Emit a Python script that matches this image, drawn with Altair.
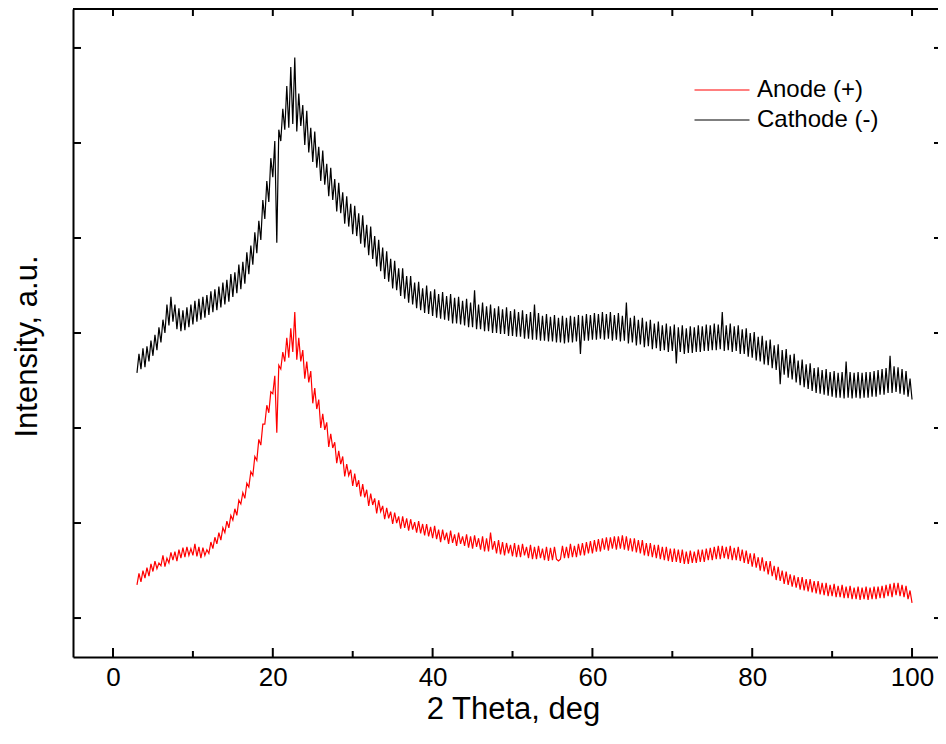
import altair as alt
import pandas as pd

# ---- data ----
two_theta = [round(3.0 + 0.25 * i, 2) for i in range(389)]  # scan grid 3..100 deg, 0.25 deg step

anode = [
    0.35, 0.47, 0.38, 0.50, 0.42, 0.53, 0.44, 0.57, 0.49, 0.60, 0.52, 0.58,
    0.55, 0.66, 0.54, 0.63, 0.58, 0.69, 0.61, 0.70, 0.60, 0.72, 0.63, 0.74,
    0.64, 0.75, 0.66, 0.73, 0.66, 0.78, 0.65, 0.75, 0.63, 0.74, 0.66, 0.72,
    0.68, 0.80, 0.73, 0.85, 0.78, 0.90, 0.82, 0.95, 0.90, 1.02, 0.95, 1.08,
    1.03, 1.15, 1.08, 1.24, 1.20, 1.32, 1.26, 1.42, 1.38, 1.54, 1.50, 1.70,
    1.66, 1.88, 1.82, 2.04, 2.04, 2.24, 2.16, 2.38, 2.36, 2.55, 1.95, 2.66,
    2.62, 2.80, 2.70, 2.95, 2.74, 3.05, 2.80, 3.22, 2.72, 2.95, 2.70, 2.82,
    2.52, 2.70, 2.48, 2.60, 2.26, 2.42, 2.20, 2.30, 2.00, 2.15, 1.98, 2.06,
    1.80, 1.94, 1.79, 1.85, 1.63, 1.76, 1.62, 1.70, 1.49, 1.62, 1.50, 1.56,
    1.39, 1.52, 1.38, 1.45, 1.28, 1.41, 1.27, 1.35, 1.18, 1.31, 1.19, 1.26,
    1.10, 1.24, 1.12, 1.18, 1.04, 1.16, 1.05, 1.12, 0.99, 1.11, 1.00, 1.07,
    0.94, 1.07, 0.95, 1.05, 0.92, 1.04, 0.93, 1.01, 0.90, 1.02, 0.89, 0.99,
    0.87, 0.99, 0.86, 0.96, 0.84, 0.97, 0.83, 0.93, 0.80, 0.93, 0.82, 0.90,
    0.78, 0.92, 0.79, 0.88, 0.76, 0.90, 0.78, 0.86, 0.76, 0.88, 0.74, 0.86,
    0.73, 0.87, 0.75, 0.84, 0.72, 0.86, 0.70, 0.84, 0.70, 0.90, 0.72, 0.81,
    0.68, 0.82, 0.67, 0.80, 0.66, 0.79, 0.68, 0.77, 0.65, 0.79, 0.64, 0.77,
    0.64, 0.78, 0.66, 0.75, 0.63, 0.77, 0.62, 0.75, 0.62, 0.76, 0.63, 0.73,
    0.61, 0.75, 0.60, 0.74, 0.61, 0.75, 0.62, 0.60, 0.62, 0.76, 0.63, 0.75,
    0.63, 0.78, 0.64, 0.76, 0.64, 0.78, 0.66, 0.79, 0.66, 0.80, 0.68, 0.81,
    0.68, 0.82, 0.70, 0.83, 0.70, 0.84, 0.72, 0.85, 0.71, 0.85, 0.73, 0.86,
    0.72, 0.86, 0.73, 0.87, 0.72, 0.86, 0.71, 0.84, 0.70, 0.84, 0.69, 0.82,
    0.68, 0.82, 0.66, 0.79, 0.65, 0.79, 0.64, 0.77, 0.63, 0.77, 0.62, 0.75,
    0.61, 0.75, 0.60, 0.73, 0.59, 0.73, 0.59, 0.72, 0.58, 0.72, 0.57, 0.70,
    0.57, 0.71, 0.58, 0.70, 0.58, 0.72, 0.59, 0.72, 0.59, 0.73, 0.61, 0.74,
    0.61, 0.75, 0.62, 0.76, 0.62, 0.76, 0.63, 0.75, 0.62, 0.76, 0.61, 0.74,
    0.61, 0.75, 0.60, 0.72, 0.58, 0.71, 0.57, 0.68, 0.54, 0.68, 0.53, 0.64,
    0.50, 0.64, 0.49, 0.60, 0.46, 0.60, 0.44, 0.55, 0.40, 0.54, 0.39, 0.50,
    0.36, 0.49, 0.35, 0.46, 0.33, 0.45, 0.32, 0.43, 0.30, 0.43, 0.29, 0.41,
    0.28, 0.41, 0.27, 0.39, 0.26, 0.39, 0.25, 0.37, 0.24, 0.37, 0.23, 0.35,
    0.23, 0.36, 0.22, 0.34, 0.22, 0.35, 0.21, 0.33, 0.21, 0.34, 0.20, 0.32,
    0.20, 0.33, 0.19, 0.32, 0.20, 0.33, 0.19, 0.32, 0.20, 0.33, 0.20, 0.33,
    0.21, 0.34, 0.21, 0.35, 0.23, 0.36, 0.22, 0.37, 0.24, 0.37, 0.23, 0.35,
    0.22, 0.34, 0.20, 0.29, 0.16,
]

cathode = [
    2.58, 2.78, 2.62, 2.84, 2.64, 2.86, 2.70, 2.92, 2.76, 2.98, 2.82, 3.06,
    2.90, 3.14, 3.00, 3.30, 3.08, 3.38, 3.12, 3.30, 3.04, 3.26, 3.02, 3.24,
    3.03, 3.27, 3.06, 3.30, 3.09, 3.34, 3.12, 3.36, 3.14, 3.38, 3.16, 3.40,
    3.19, 3.44, 3.22, 3.46, 3.24, 3.49, 3.27, 3.53, 3.30, 3.56, 3.33, 3.62,
    3.38, 3.64, 3.42, 3.72, 3.46, 3.75, 3.52, 3.85, 3.62, 3.92, 3.72, 4.06,
    3.84, 4.18, 3.98, 4.40, 4.20, 4.60, 4.38, 4.84, 4.64, 5.02, 3.95, 5.14,
    5.02, 5.36, 5.14, 5.60, 5.16, 5.80, 5.20, 5.90, 5.12, 5.52, 5.18, 5.40,
    4.98, 5.34, 4.90, 5.16, 4.80, 5.12, 4.74, 4.96, 4.60, 4.92, 4.56, 4.78,
    4.44, 4.74, 4.40, 4.62, 4.28, 4.58, 4.26, 4.48, 4.15, 4.44, 4.12, 4.36,
    4.04, 4.34, 4.02, 4.26, 3.94, 4.24, 3.90, 4.14, 3.82, 4.12, 3.78, 4.02,
    3.70, 3.98, 3.65, 3.90, 3.57, 3.86, 3.54, 3.78, 3.47, 3.76, 3.45, 3.68,
    3.39, 3.68, 3.36, 3.60, 3.32, 3.60, 3.30, 3.53, 3.26, 3.54, 3.24, 3.47,
    3.21, 3.50, 3.20, 3.44, 3.18, 3.46, 3.16, 3.41, 3.15, 3.43, 3.14, 3.39,
    3.13, 3.41, 3.10, 3.37, 3.10, 3.38, 3.09, 3.34, 3.08, 3.36, 3.06, 3.32,
    3.06, 3.45, 3.04, 3.30, 3.04, 3.32, 3.02, 3.28, 3.02, 3.30, 3.00, 3.26,
    3.00, 3.28, 2.99, 3.25, 2.99, 3.27, 2.97, 3.23, 2.97, 3.25, 2.96, 3.22,
    2.96, 3.24, 2.94, 3.20, 2.94, 3.22, 2.93, 3.30, 2.93, 3.21, 2.92, 3.18,
    2.92, 3.20, 2.91, 3.17, 2.91, 3.19, 2.90, 3.16, 2.90, 3.18, 2.89, 3.16,
    2.90, 3.18, 2.90, 3.17, 2.91, 3.19, 2.78, 3.18, 2.92, 3.20, 2.92, 3.19,
    2.93, 3.21, 2.93, 3.20, 2.94, 3.22, 2.93, 3.20, 2.94, 3.22, 2.92, 3.19,
    2.93, 3.21, 2.91, 3.18, 2.92, 3.32, 2.89, 3.16, 2.90, 3.18, 2.87, 3.14,
    2.88, 3.16, 2.85, 3.12, 2.86, 3.14, 2.83, 3.10, 2.84, 3.12, 2.81, 3.08,
    2.82, 3.10, 2.80, 3.07, 2.81, 3.09, 2.68, 3.06, 2.80, 3.08, 2.78, 3.05,
    2.79, 3.07, 2.79, 3.06, 2.80, 3.08, 2.80, 3.07, 2.81, 3.09, 2.81, 3.08,
    2.82, 3.10, 2.82, 3.09, 2.83, 3.22, 2.81, 3.08, 2.82, 3.10, 2.80, 3.07,
    2.81, 3.08, 2.78, 3.04, 2.78, 3.05, 2.75, 3.00, 2.74, 3.01, 2.71, 2.96,
    2.70, 2.97, 2.67, 2.92, 2.66, 2.93, 2.63, 2.87, 2.61, 2.88, 2.46, 2.82,
    2.56, 2.83, 2.53, 2.77, 2.51, 2.78, 2.48, 2.71, 2.45, 2.72, 2.43, 2.67,
    2.41, 2.68, 2.39, 2.63, 2.37, 2.64, 2.36, 2.61, 2.35, 2.62, 2.34, 2.59,
    2.33, 2.60, 2.32, 2.58, 2.32, 2.59, 2.31, 2.70, 2.32, 2.59, 2.31, 2.58,
    2.32, 2.59, 2.31, 2.58, 2.32, 2.59, 2.32, 2.59, 2.33, 2.60, 2.33, 2.61,
    2.35, 2.62, 2.35, 2.63, 2.37, 2.76, 2.37, 2.65, 2.38, 2.64, 2.36, 2.62,
    2.35, 2.60, 2.33, 2.52, 2.30,
]

series_names = ["Anode (+)", "Cathode (-)"]
series_colors = ["#ff0000", "#000000"]

x_major_ticks = [0, 20, 40, 60, 80, 100]
x_minor_ticks = [10, 30, 50, 70, 90]
x_top_ticks = [0, 10, 20, 30, 40, 50, 60, 70, 80, 90, 100]
y_ticks = [0, 1, 2, 3, 4, 5, 6]

# ---- build tables ----
df = pd.DataFrame({
    "theta": two_theta + two_theta,
    "intensity": anode + cathode,
    "series": [series_names[0]] * len(anode) + [series_names[1]] * len(cathode),
})

W, H = 865, 648
FONT = "Liberation Sans"
xs = alt.Scale(domain=[-5.006, 103.25], nice=False, zero=False)
ys = alt.Scale(domain=[-0.41, 6.41], nice=False, zero=False)

x_axis = alt.Axis(
    values=x_major_ticks, format="d", ticks=False, grid=False,
    domain=True, domainColor="black", domainWidth=2,
    labelFontSize=26, labelPadding=7, labelFont=FONT, labelColor="black",
    title="2 Theta, deg", titleFontSize=31, titleFontWeight="normal",
    titleFont=FONT, titleColor="black", titlePadding=4, titleX=440)
y_axis = alt.Axis(
    labels=False, ticks=False, grid=False,
    domain=True, domainColor="black", domainWidth=2,
    title="Intensity, a.u.", titleFontSize=31, titleFontWeight="normal",
    titleFont=FONT, titleColor="black", titlePadding=30, titleY=337)

lines = alt.Chart(df).mark_line(strokeWidth=1.2, clip=True).encode(
    x=alt.X("theta:Q", scale=xs, axis=x_axis),
    y=alt.Y("intensity:Q", scale=ys, axis=y_axis),
    color=alt.Color("series:N", scale=alt.Scale(domain=series_names, range=series_colors),
                    legend=alt.Legend(title=None, orient="none", legendX=637, legendY=69,
                                      symbolType="M-5,0H5", symbolSize=121,
                                      symbolStrokeWidth=1.2, labelFontSize=24,
                                      labelFont=FONT, labelColor="black",
                                      labelOffset=23, rowPadding=6, padding=0)),
)

def tick_rules(values, chan, p1, p2):
    d = pd.DataFrame({"t": values})
    base = alt.Chart(d).mark_rule(color="black", strokeWidth=2)
    if chan == "x":
        return base.encode(x=alt.X("t:Q", scale=xs, axis=x_axis),
                           y=alt.value(p1), y2=alt.value(p2))
    return base.encode(y=alt.Y("t:Q", scale=ys, axis=y_axis),
                       x=alt.value(p1), x2=alt.value(p2))

# top border of the frame (the right border lies beyond the picture's edge)
top_border = alt.Chart(pd.DataFrame({"t": [0]})).mark_rule(color="black", strokeWidth=2).encode(
    x=alt.value(0), x2=alt.value(W), y=alt.value(0))

layers = [
    lines,
    top_border,
    tick_rules(x_major_ticks, "x", H, H - 9),
    tick_rules(x_minor_ticks, "x", H, H - 6),
    tick_rules(x_top_ticks, "x", 0, 7),
    tick_rules(y_ticks, "y", 0, 8),
    tick_rules(y_ticks, "y", W, W - 4),
]

chart = alt.layer(*layers).properties(
    width=W, height=H,
    autosize=alt.AutoSizeParams(type="none"),
    padding={"left": 65, "top": 1, "right": 0, "bottom": 73},
).configure_view(stroke=None)

chart.save("out.html", embed_options={"renderer": "svg", "actions": False})
